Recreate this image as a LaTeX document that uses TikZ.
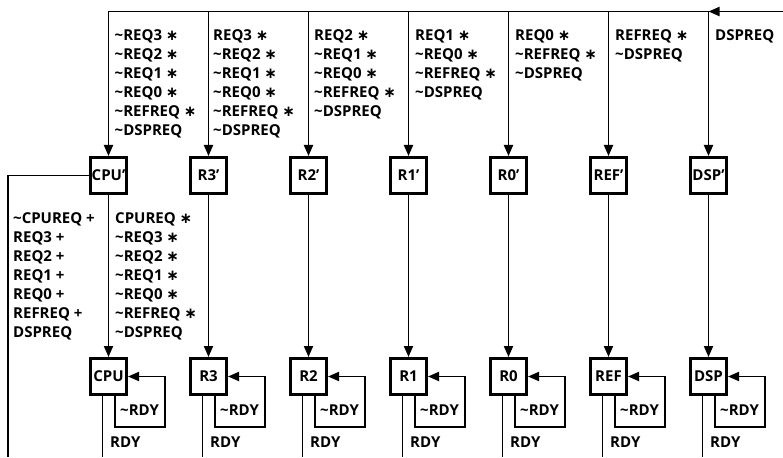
\documentclass[tikz,border=0pt]{standalone}
\usepackage{fontspec}
\setmainfont{Open Sans}
\newfontfamily\symfont{DejaVu Sans}
\usetikzlibrary{arrows.meta}
\newcommand{\andop}{{\symfont\bfseries ∗}}
\newcommand{\ntl}{\textasciitilde}
\begin{document}
\begin{tikzpicture}[x=1pt,y=-1pt,
  lblfont/.style={font=\fontsize{15}{19}\selectfont\bfseries},
  box/.style={draw, line width=3pt, minimum width=36pt, minimum height=36pt, inner sep=0pt, lblfont},
  ln/.style={line width=1.9pt},
  arr/.style={ln, -{Triangle[length=11pt,width=9pt]}},
  lab/.style={anchor=north west, align=left, inner sep=0pt, lblfont}]
\useasboundingbox (0,0) rectangle (783,457);
\fill[white] (0,0) rectangle (783,457);
% boxes
\foreach \i/\n/\t in {0/c/CPU,1/3/R3,2/2/R2,3/1/R1,4/0/R0,5/r/REF,6/d/DSP} {
  \node[box] (t\n) at (108.5+100*\i, 175.5) {\t’};
  \node[box] (b\n) at (108.5+100*\i, 376.5) {\t};
  \coordinate (top\n) at (108.5+100*\i, 11.5);
  \coordinate (end\n) at (102.5+100*\i, 457);
  \draw[arr] (top\n) -- (t\n.north);
  \draw[arr] (t\n.south) -- (b\n.north);
  \draw[ln] ([xshift=-6pt]b\n.south) -- (end\n);
  \draw[arr] ([xshift=6.5pt]b\n.south) -- ++(0,31) -| ([xshift=37pt]b\n.east) -- (b\n.east);
  \node[lab] (nr\n) at (120+100*\i, 405) {\ntl RDY};
  \node[lab] (r\n) at (110+100*\i, 437) {RDY};
}
% top bus
\coordinate (re) at (783,11.5);
\draw[arr] (re) -- (topd);
\draw[ln] (topd) -- (topc);
% left line
\coordinate (lb) at (8,457);
\draw[ln] (tc.west) -| (lb);
% top labels
\node[lab] (lc) at (114.5,29.5) {\ntl REQ3 \andop\\\ntl REQ2 \andop\\\ntl REQ1 \andop\\\ntl REQ0 \andop\\\ntl REFREQ \andop\\\ntl DSPREQ};
\node[lab] (l3) at (213,29.5) {REQ3 \andop\\\ntl REQ2 \andop\\\ntl REQ1 \andop\\\ntl REQ0 \andop\\\ntl REFREQ \andop\\\ntl DSPREQ};
\node[lab] (l2) at (314,29.5) {REQ2 \andop\\\ntl REQ1 \andop\\\ntl REQ0 \andop\\\ntl REFREQ \andop\\\ntl DSPREQ};
\node[lab] (l1) at (415,29.5) {REQ1 \andop\\\ntl REQ0 \andop\\\ntl REFREQ \andop\\\ntl DSPREQ};
\node[lab] (l0) at (515,29.5) {REQ0 \andop\\\ntl REFREQ \andop\\\ntl DSPREQ};
\node[lab] (lr) at (615,29.5) {REFREQ \andop\\\ntl DSPREQ};
\node[lab] (ld) at (715,29.5) {DSPREQ};
% middle labels
\node[lab] (ml) at (13,212.5) {\ntl CPUREQ +\\REQ3 +\\REQ2 +\\REQ1 +\\REQ0 +\\REFREQ +\\DSPREQ};
\node[lab] (mr) at (115,212.5) {CPUREQ \andop\\\ntl REQ3 \andop\\\ntl REQ2 \andop\\\ntl REQ1 \andop\\\ntl REQ0 \andop\\\ntl REFREQ \andop\\\ntl DSPREQ};
\end{tikzpicture}
\end{document}
